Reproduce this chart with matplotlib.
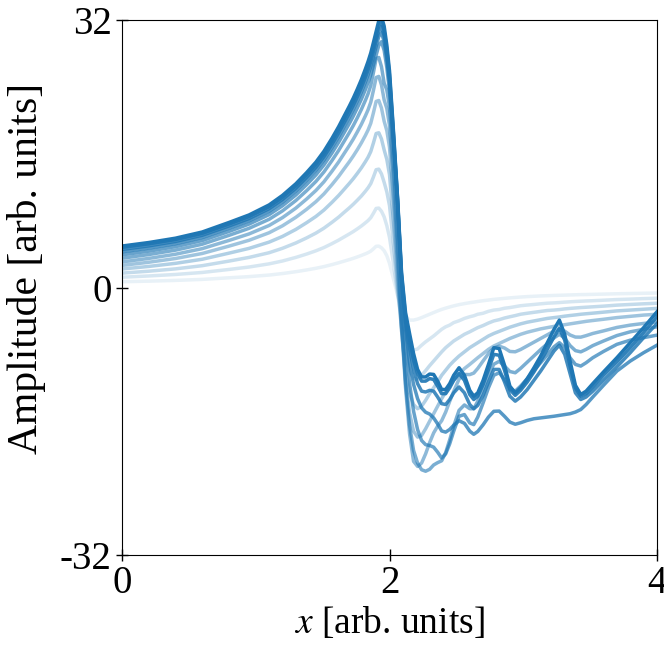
import matplotlib
matplotlib.use("Agg")
import matplotlib.pyplot as plt
import numpy as np

# sample positions: rising flank and peak, then the dip and ringing part
x_left = [0, 0.2, 0.4, 0.6, 0.8, 0.95, 1.1, 1.2, 1.3, 1.38,
          1.45, 1.51, 1.57, 1.62, 1.66, 1.7, 1.73, 1.76, 1.79, 1.82,
          1.84, 1.86, 1.88, 1.9, 1.92, 1.94, 1.96, 1.98, 2.0, 2.03,
          2.06, 2.09]
x_tail = [2.12, 2.15, 2.18, 2.21, 2.24, 2.27, 2.3, 2.33, 2.36, 2.39,
          2.42, 2.45, 2.48, 2.52, 2.56, 2.6, 2.63, 2.66, 2.7, 2.74,
          2.78, 2.82, 2.86, 2.9, 2.94, 2.98, 3.03, 3.08, 3.13, 3.18,
          3.23, 3.27, 3.31, 3.35, 3.39, 3.43, 3.47, 3.52, 3.6, 3.7,
          3.8, 3.9, 4.0]
x = x_left + x_tail

y0 = [0.69, 0.76, 0.85, 0.97, 1.16, 1.30, 1.49, 1.67, 1.89, 2.10,
      2.30, 2.50, 2.74, 2.96, 3.15, 3.34, 3.49, 3.66, 3.84, 4.03,
      4.17, 4.35, 4.63, 4.93, 4.95, 4.75, 4.4, 3.8, 2.9, 1.0,
      -0.9, -2.4,
      -3.4, -3.9, -3.9, -3.78, -3.6, -3.4, -3.2, -3.0, -2.8, -2.62,
      -2.47, -2.33, -2.2, -2.05, -1.93, -1.82, -1.75, -1.67, -1.58, -1.5,
      -1.42, -1.36, -1.3, -1.24, -1.19, -1.14, -1.09, -1.05, -1.01, -0.98,
      -0.95, -0.93, -0.91, -0.89, -0.87, -0.85, -0.84, -0.82, -0.79, -0.75,
      -0.72, -0.69, -0.66]
y1 = [1.23, 1.38, 1.56, 1.80, 2.16, 2.45, 2.83, 3.17, 3.60, 4.00,
      4.39, 4.78, 5.25, 5.67, 6.04, 6.41, 6.70, 7.02, 7.36, 7.74,
      8.01, 8.35, 8.88, 9.46, 9.5, 9.12, 8.45, 7.4, 6.0, 2.8,
      -0.8, -3.8,
      -5.9, -7.1, -7.5, -7.35, -6.9, -6.5, -6.15, -5.8, -5.4, -5.0,
      -4.7, -4.5, -4.2, -3.98, -3.7, -3.5, -3.38, -3.2, -3.08, -2.85,
      -2.7, -2.63, -2.48, -2.4, -2.29, -2.18, -2.1, -2.03, -1.95, -1.88,
      -1.84, -1.8, -1.75, -1.71, -1.67, -1.64, -1.61, -1.58, -1.52, -1.44,
      -1.39, -1.33, -1.28]
y2 = [1.72, 1.95, 2.23, 2.61, 3.16, 3.60, 4.16, 4.69, 5.33, 5.93,
      6.51, 7.10, 7.80, 8.42, 8.98, 9.53, 9.97, 10.45, 10.95, 11.52,
      11.93, 12.43, 13.23, 14.09, 14.16, 13.59, 12.58, 11.44, 9.8, 5.2,
      0.0, -4.8,
      -8.0, -9.9, -10.9, -10.95, -10.5, -9.95, -9.35, -8.8, -8.25, -7.7,
      -7.2, -6.8, -6.4, -6.0, -5.6, -5.3, -5.05, -4.8, -4.55, -4.25,
      -4.0, -3.85, -3.65, -3.5, -3.36, -3.2, -3.08, -2.97, -2.86, -2.75,
      -2.7, -2.64, -2.56, -2.5, -2.45, -2.4, -2.36, -2.31, -2.23, -2.11,
      -2.03, -1.95, -1.88]
y3 = [2.21, 2.52, 2.89, 3.38, 4.11, 4.68, 5.43, 6.11, 6.95, 7.75,
      8.50, 9.27, 10.19, 11.01, 11.73, 12.46, 13.03, 13.66, 14.32, 15.06,
      15.59, 16.26, 17.30, 18.42, 18.51, 17.77, 16.46, 15.33, 13.5, 7.8,
      1.2, -5.2,
      -9.8, -12.6, -14.0, -14.5, -14.2, -13.5, -12.7, -12.0, -11.3, -10.5,
      -9.9, -9.3, -8.8, -8.2, -7.7, -7.2, -6.9, -6.6, -6.2, -5.8,
      -5.5, -5.25, -5.0, -4.75, -4.55, -4.35, -4.15, -4.0, -3.85, -3.7,
      -3.6, -3.52, -3.43, -3.35, -3.28, -3.2, -3.14, -3.07, -2.95, -2.8,
      -2.7, -2.6, -2.5]
y4 = [2.64, 3.02, 3.47, 4.07, 4.95, 5.65, 6.55, 7.38, 8.40, 9.35,
      10.27, 11.20, 12.31, 13.30, 14.18, 15.05, 15.75, 16.50, 17.31, 18.20,
      18.85, 19.65, 20.91, 22.26, 22.37, 21.47, 19.89, 18.76, 16.8, 10.5,
      2.8, -5.0,
      -11.0, -15.0, -17.2, -17.9, -17.7, -16.9, -16.0, -15.1, -14.2, -13.3,
      -12.5, -11.8, -11.1, -10.4, -9.7, -9.2, -8.8, -8.4, -7.9, -7.4,
      -7.0, -6.7, -6.4, -6.1, -5.85, -5.6, -5.35, -5.15, -4.95, -4.8,
      -4.65, -4.55, -4.45, -4.35, -4.25, -4.15, -4.05, -3.95, -3.8, -3.6,
      -3.45, -3.3, -3.2]
y5 = [3.06, 3.48, 3.98, 4.65, 5.63, 6.41, 7.42, 8.36, 9.50, 10.58,
      11.61, 12.65, 13.91, 15.02, 16.01, 16.99, 17.77, 18.63, 19.53, 20.54,
      21.27, 22.17, 23.59, 25.12, 25.25, 24.23, 22.44, 21.42, 19.4, 12.8,
      4.5, -4.5,
      -12.0, -17.5, -20.8, -21.4, -21.0, -19.9, -18.56, -17.4, -16.58, -15.94,
      -14.9, -13.62, -12.42, -10.96, -10.4, -10.42, -10.24, -9.68, -8.78, -7.9,
      -7.24, -7.02, -7.24, -7.65, -7.69, -7.42, -6.98, -6.54, -6.1, -5.66,
      -5.22, -5.0, -5.22, -5.68, -5.93, -5.94, -5.76, -5.5, -5.19, -4.78,
      -4.5, -4.3, -4.1]
y6 = [3.50, 3.94, 4.47, 5.18, 6.24, 7.08, 8.16, 9.17, 10.41, 11.58,
      12.69, 13.83, 15.19, 16.40, 17.47, 18.54, 19.39, 20.32, 21.31, 22.40,
      23.19, 24.17, 25.72, 27.38, 27.52, 26.41, 24.46, 23.63, 21.6, 14.8,
      6.2, -3.5,
      -11.5, -16.5, -19.5, -21.0, -21.8, -21.98, -21.75, -21.23, -20.95, -20.73,
      -19.75, -18.23, -16.58, -14.7, -14.05, -14.5, -14.5, -13.6, -12.05, -10.45,
      -9.18, -8.83, -9.4, -10.05, -10.2, -9.68, -8.93, -8.18, -7.43, -6.73,
      -6.03, -5.6, -6.05, -6.95, -7.55, -7.7, -7.4, -6.95, -6.4, -5.75,
      -5.3, -5.0, -4.7]
y7 = [3.91, 4.35, 4.89, 5.62, 6.71, 7.59, 8.72, 9.78, 11.07, 12.30,
      13.47, 14.67, 16.10, 17.38, 18.50, 19.63, 20.53, 21.51, 22.54, 23.70,
      24.53, 25.45, 26.61, 27.78, 28.96, 29.4, 28.37, 26.31, 23.5, 16.9,
      9.8, 0.5,
      -6.5, -11.5, -14.8, -17.0, -18.3, -18.8, -18.9, -19.1, -19.7, -20.4,
      -19.9, -18.7, -17.2, -15.4, -15.2, -16.2, -16.4, -15.5, -13.8, -12.0,
      -10.5, -10.2, -11.0, -12.1, -12.4, -11.8, -10.9, -9.9, -9.0, -8.05,
      -7.1, -6.6, -7.2, -8.4, -9.2, -9.4, -9.0, -8.4, -7.65, -6.8,
      -6.3, -6.0, -5.7]
y8 = [4.27, 4.71, 5.24, 5.98, 7.09, 7.98, 9.13, 10.22, 11.55, 12.82,
      14.03, 15.26, 16.74, 18.06, 19.22, 20.39, 21.31, 22.33, 23.40, 24.60,
      25.46, 26.41, 27.60, 28.82, 30.04, 30.5, 29.43, 27.30, 24.4, 17.5,
      10.2, 1.0,
      -5.0, -9.0, -11.6, -13.3, -14.4, -14.92, -15.14, -15.6, -16.32, -17.16,
      -17.3, -16.98, -16.48, -15.94, -16.25, -17.18, -17.56, -17.22, -16.42, -15.5,
      -14.81, -14.78, -15.41, -16.1, -16.36, -16.18, -15.9, -15.7, -15.6, -15.5,
      -15.4, -15.3, -15.2, -15.1, -14.9, -14.6, -14.0, -13.1, -11.7, -10.0,
      -8.8, -7.8, -6.9]
y9 = [4.56, 4.98, 5.51, 6.25, 7.36, 8.25, 9.43, 10.53, 11.88, 13.17,
      14.39, 15.65, 17.15, 18.50, 19.69, 20.88, 21.82, 22.85, 23.95, 25.17,
      26.05, 27.02, 28.24, 29.48, 30.73, 31.2, 30.11, 27.92, 24.96, 17.94,
      10.45, 1.2,
      -4.2, -7.3, -9.8, -11.5, -12.4, -12.5, -12.3, -12.4, -13.1, -13.9,
      -14.0, -13.4, -12.6, -11.9, -12.6, -14.0, -14.5, -14.1, -12.9, -11.3,
      -9.8, -9.8, -11.3, -13.0, -13.6, -13.1, -12.2, -11.1, -10.0, -8.8,
      -7.6, -6.9, -8.0, -10.3, -12.6, -13.4, -13.1, -12.4, -11.1, -9.5,
      -7.8, -6.0, -4.3]
y10 = [4.80, 5.22, 5.74, 6.47, 7.59, 8.49, 9.67, 10.79, 12.16, 13.46,
       14.71, 15.98, 17.51, 18.88, 20.09, 21.30, 22.25, 23.30, 24.42, 25.66,
       26.55, 27.54, 28.78, 30.05, 31.32, 31.8, 30.69, 28.46, 25.44, 18.29,
       10.65, 1.5,
       -3.5, -6.3, -8.7, -10.3, -11.2, -11.2, -10.9, -11.0, -11.8, -12.7,
       -12.7, -12.0, -11.1, -10.3, -11.1, -12.8, -13.4, -13.0, -11.6, -9.8,
       -8.0, -8.1, -9.9, -12.2, -12.9, -12.3, -11.3, -10.1, -8.8, -7.4,
       -5.9, -4.9, -6.3, -9.4, -12.0, -13.0, -12.7, -11.9, -10.5, -8.9,
       -7.2, -5.4, -3.5]
y11 = [4.96, 5.38, 5.90, 6.64, 7.78, 8.68, 9.88, 11.02, 12.41, 13.74,
       15.0, 16.30, 17.85, 19.25, 20.48, 21.71, 22.68, 23.75, 24.88, 26.15,
       27.05, 28.06, 29.32, 30.62, 31.91, 32.4, 31.27, 29.0, 25.92, 18.63,
       10.85, 1.8,
       -3.0, -5.5, -7.9, -9.8, -10.7, -10.7, -10.35, -10.4, -11.2, -12.2,
       -12.2, -11.5, -10.5, -9.6, -10.5, -12.3, -13.0, -12.6, -11.1, -9.2,
       -7.2, -7.3, -9.3, -11.8, -12.6, -12.0, -10.9, -9.6, -8.2, -6.6,
       -5.0, -3.9, -5.6, -8.8, -11.7, -12.8, -12.4, -11.5, -10.1, -8.4,
       -6.6, -4.8, -2.9]

traces = [y0, y1, y2, y3, y4, y5, y6, y7, y8, y9, y10, y11]

plt.rcParams['font.family'] = 'Liberation Serif'
plt.rcParams['mathtext.fontset'] = 'stix'
plt.rcParams['axes.unicode_minus'] = False

fig = plt.figure(figsize=(6.64, 6.49), dpi=100)
ax = fig.add_axes([122/664, 1 - 555/649, 535/664, 535/649])

alphas = np.linspace(0.1, 1.0, len(traces))
for y, a in zip(traces, alphas):
    ax.plot(x, y, color='#1f77b4', alpha=a, lw=2.5)

ax.set_xlim(0, 4)
ax.set_ylim(-32, 32)
ax.set_xticks([0, 2, 4])
ax.set_yticks([-32, 0, 32])
ax.tick_params(direction='inout', length=8, width=1, labelsize=28)
ax.set_xlabel('$x$ [arb. units]', fontsize=27, labelpad=2)
ax.set_ylabel('Amplitude [arb. units]', fontsize=30)
ax.yaxis.set_label_coords(-0.142, 0.535)

fig.savefig('out.png', dpi=100)
